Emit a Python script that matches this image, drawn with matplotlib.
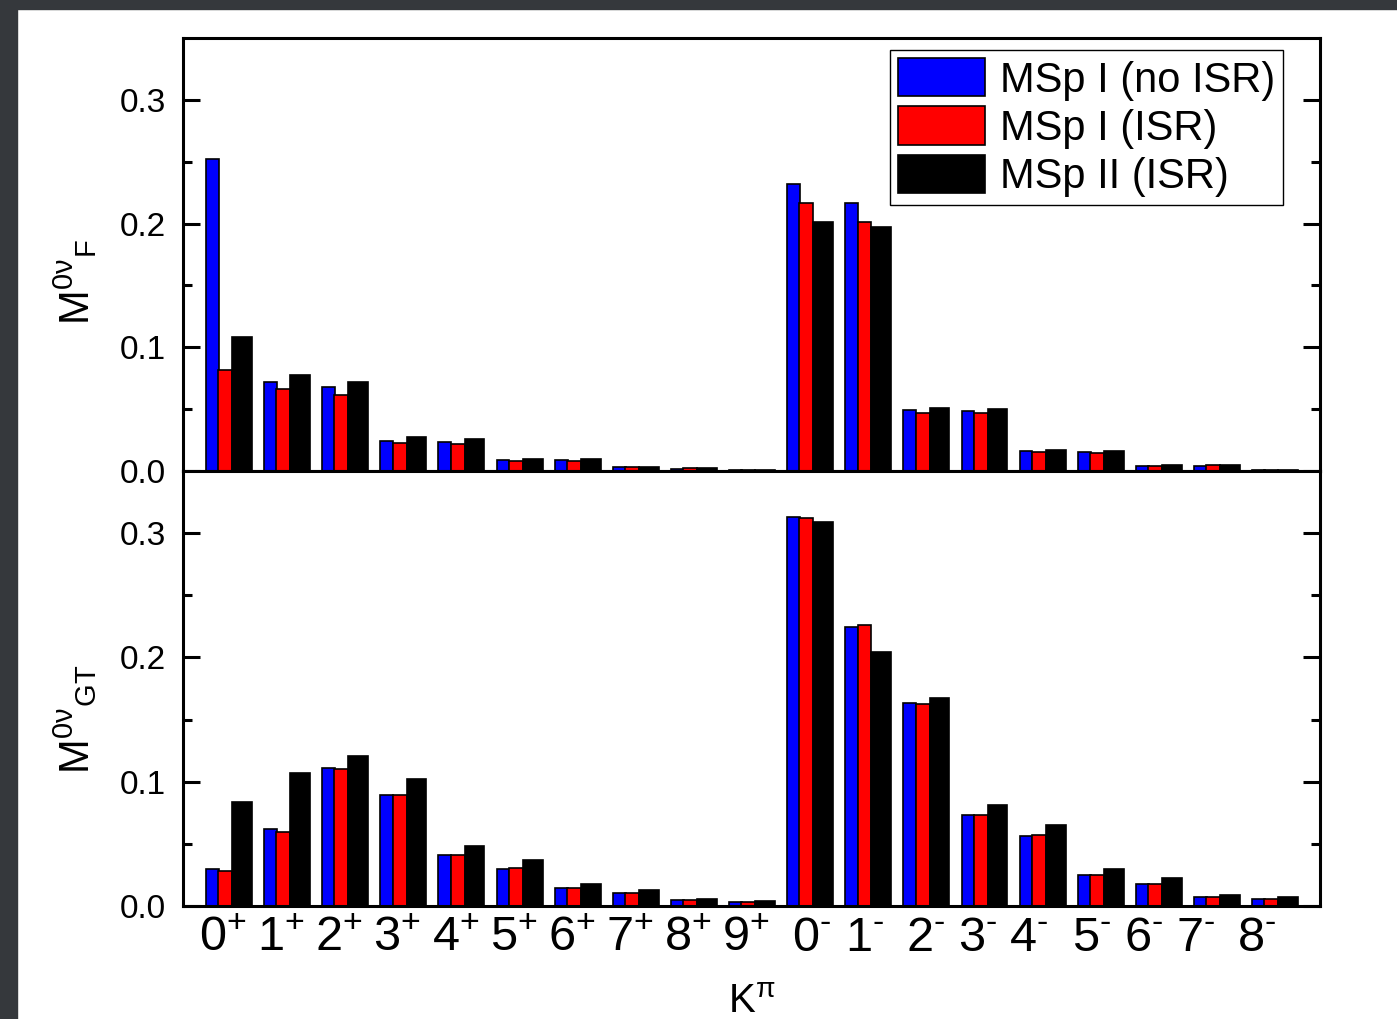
import numpy as np
import matplotlib
matplotlib.use('Agg')
import matplotlib.pyplot as plt
from matplotlib.patches import Rectangle

plt.rcParams['font.family'] = ['Liberation Sans', 'DejaVu Sans']
plt.rcParams['mathtext.fontset'] = 'custom'
plt.rcParams['mathtext.rm'] = 'Liberation Sans'
plt.rcParams['mathtext.it'] = 'Liberation Sans:italic'

# K^pi channels
kpi = ['0$^{+}$', '1$^{+}$', '2$^{+}$', '3$^{+}$', '4$^{+}$', '5$^{+}$', '6$^{+}$',
       '7$^{+}$', '8$^{+}$', '9$^{+}$', '0$^{\u2010}$', '1$^{\u2010}$', '2$^{\u2010}$',
       '3$^{\u2010}$', '4$^{\u2010}$', '5$^{\u2010}$', '6$^{\u2010}$', '7$^{\u2010}$',
       '8$^{\u2010}$']
series = ['MSp I (no ISR)', 'MSp I (ISR)', 'MSp II (ISR)']

# Fermi part
mf_msp1_noisr = [0.252, 0.072, 0.068, 0.024, 0.0234, 0.009, 0.009, 0.003, 0.002, 0.0008,
                 0.232, 0.217, 0.049, 0.0484, 0.016, 0.0153, 0.004, 0.004, 0.0008]
mf_msp1_isr = [0.0815, 0.0664, 0.0613, 0.0223, 0.0218, 0.008, 0.008, 0.003, 0.0022, 0.0008,
               0.217, 0.2016, 0.0468, 0.0468, 0.0157, 0.0145, 0.004, 0.0045, 0.0008]
mf_msp2_isr = [0.1083, 0.0774, 0.072, 0.0277, 0.0258, 0.0097, 0.0097, 0.0035, 0.0025, 0.001,
               0.201, 0.1976, 0.0508, 0.050, 0.017, 0.016, 0.005, 0.0045, 0.001]

# Gamow-Teller part
mgt_msp1_noisr = [0.030, 0.062, 0.1108, 0.0896, 0.0413, 0.030, 0.0145, 0.0102, 0.005, 0.003,
                  0.3132, 0.2247, 0.1633, 0.0732, 0.0563, 0.025, 0.0177, 0.0072, 0.0056]
mgt_msp1_isr = [0.028, 0.0595, 0.1102, 0.0893, 0.041, 0.0306, 0.0148, 0.0107, 0.005, 0.003,
                0.3119, 0.2261, 0.1625, 0.0732, 0.0571, 0.025, 0.0177, 0.0072, 0.0056]
mgt_msp2_isr = [0.0839, 0.1073, 0.121, 0.1019, 0.0483, 0.0367, 0.0174, 0.013, 0.006, 0.004,
                0.3092, 0.2046, 0.1673, 0.0813, 0.065, 0.0298, 0.0225, 0.0088, 0.0072]

# hand placed tick labels (shift from group start)
label_shift = [0.29] * 10 + [0.425, 0.325, 0.375, 0.282, 0.148, 0.232, 0.127, 0.034, 0.084]

fig = plt.figure(figsize=(13.97, 10.19), dpi=100)
fig.patches.append(Rectangle((0, 1 - 9 / 1019), 1, 9 / 1019, transform=fig.transFigure,
                             color='#35383c', zorder=-1))
fig.patches.append(Rectangle((0, 0), 17 / 1397, 1, transform=fig.transFigure,
                             color='#35383c', zorder=-1))

ax1 = fig.add_axes([0.131, 0.5378, 0.814, 0.4249])
ax2 = fig.add_axes([0.131, 0.1109, 0.814, 0.4269])

ind = np.arange(len(kpi))
colors = ['#0000ff', '#ff0000', '#000000']
lefts = [0.0, 0.21, 0.45]
widths = [0.22, 0.24, 0.34]


def draw(ax, data):
    bars = []
    for vals, c, l, w in zip(data, colors, lefts, widths):
        b = ax.bar(ind + l, vals, w, align='edge', color=c, edgecolor='black', linewidth=1.2)
        bars.append(b)
    ax.set_xlim(-0.396, 19.17)
    ax.set_ylim(0, 0.35)
    ax.set_yticks([0.0, 0.1, 0.2, 0.3])
    ax.set_yticks(np.arange(0.05, 0.35, 0.1), minor=True)
    ax.yaxis.set_major_formatter(matplotlib.ticker.FormatStrFormatter('%.1f'))
    ax.tick_params(axis='y', which='both', direction='in', left=True, right=True,
                   width=2.2, labelsize=24, pad=12)
    ax.tick_params(axis='y', which='major', length=12)
    ax.tick_params(axis='y', which='minor', length=6.5)
    ax.tick_params(axis='x', length=0)
    for s in ax.spines.values():
        s.set_linewidth(2.2)
    return bars


bars = draw(ax1, [mf_msp1_noisr, mf_msp1_isr, mf_msp2_isr])
draw(ax2, [mgt_msp1_noisr, mgt_msp1_isr, mgt_msp2_isr])

ax1.set_xticks([])
ax2.set_xticks(ind + np.array(label_shift))
ax2.set_xticklabels(kpi, fontsize=35)
ax2.tick_params(axis='x', pad=7)

ax1.set_ylabel(r'M$^{\mathregular{0\nu}}{}_{\mathregular{F}}$', fontsize=30)
ax2.set_ylabel(r'M$^{\mathregular{0\nu}}{}_{\mathregular{GT}}$', fontsize=30)
ax1.yaxis.set_label_coords(-0.074, 0.436)
ax2.yaxis.set_label_coords(-0.074, 0.428)
ax2.set_xlabel(r'K$^{\mathregular{\pi}}$', fontsize=29, labelpad=16)

leg = ax1.legend([b[0] for b in bars], series, loc='upper right',
                 bbox_to_anchor=(0.9675, 0.9723), borderaxespad=0, fontsize=30,
                 handlelength=2.09, handleheight=1.03, handletextpad=0.34,
                 labelspacing=0.14, borderpad=0.2, fancybox=False, framealpha=1)
leg.get_frame().set_edgecolor('black')
leg.get_frame().set_linewidth(1.0)

plt.savefig('out.png', dpi=100)
